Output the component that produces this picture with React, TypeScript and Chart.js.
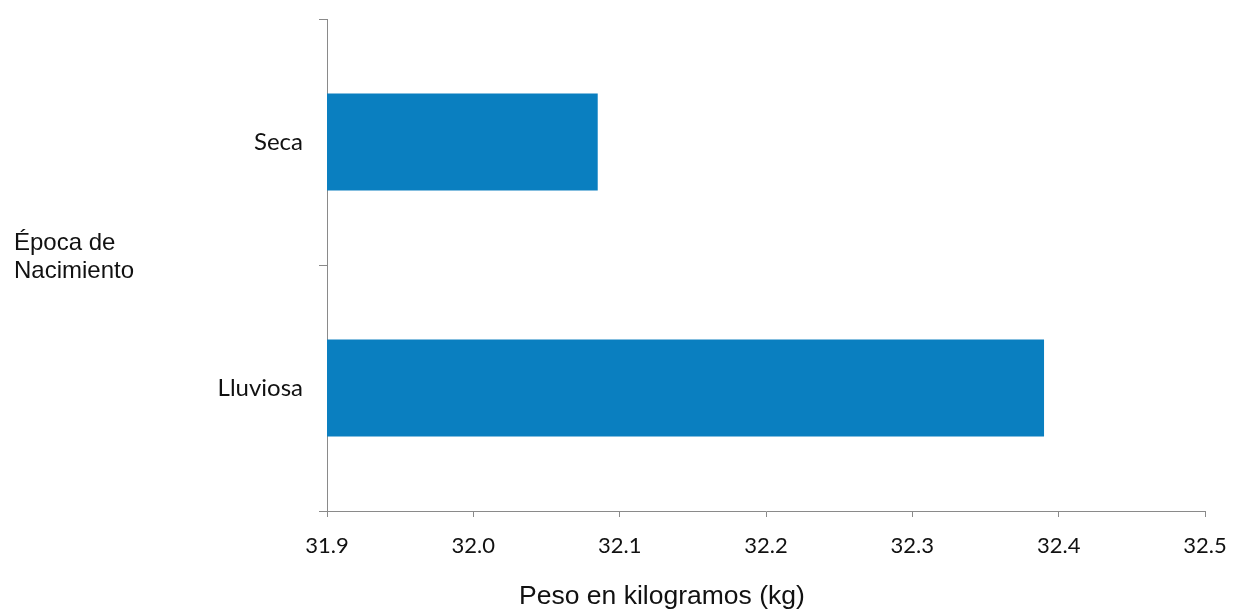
import React, { useEffect, useRef } from "react";
import { Chart, registerables } from "chart.js";

Chart.register(...registerables);

const categories = ["Seca", "Lluviosa"];
const pesoValues = [32.085, 32.39];
const xMin = 31.9;
const xMax = 32.5;
const xStep = 0.1;
const yAxisTitleLines = ["Época de", "Nacimiento"];
const xAxisTitle = "Peso en kilogramos (kg)";

const BAR_COLOR = "#0a7fc0";
const AXIS_COLOR = "#8a8a8a";
const TEXT_COLOR = "#111";
const TICK_FONT = "Lato, 'Open Sans', sans-serif";
const TITLE_FONT = "'Liberation Sans', Arial, sans-serif";

const titlesPlugin = {
  id: "titles",
  afterDraw(chart: any) {
    const { ctx, chartArea } = chart;
    ctx.save();
    ctx.fillStyle = TEXT_COLOR;
    ctx.textBaseline = "middle";
    // side (y) title, horizontal, two lines
    ctx.font = `24px ${TITLE_FONT}`;
    ctx.textAlign = "left";
    const lh = 28;
    const cy = (chartArea.top + chartArea.bottom) / 2 - 7.5;
    const n = yAxisTitleLines.length;
    yAxisTitleLines.forEach((line, i) => {
      ctx.fillText(line, 14, cy + (i - (n - 1) / 2) * lh);
    });
    // x title
    ctx.font = `26.5px ${TITLE_FONT}`;
    ctx.textAlign = "center";
    ctx.fillText(xAxisTitle, chartArea.left + chartArea.width * 0.3815, chartArea.bottom + 86);
    ctx.restore();
  },
};

export default function App() {
  const ref = useRef<HTMLCanvasElement>(null);
  useEffect(() => {
    if (!ref.current) return;
    const chart = new Chart(ref.current, {
      type: "bar",
      data: {
        labels: categories,
        datasets: [
          {
            data: pesoValues,
            backgroundColor: BAR_COLOR,
            borderWidth: 0,
            barPercentage: 0.395,
            categoryPercentage: 1,
          },
        ],
      },
      options: {
        indexAxis: "y",
        animation: false,
        responsive: false,
        maintainAspectRatio: false,
        layout: { padding: { top: 19, right: 30, bottom: 0, left: 0 } },
        plugins: {
          legend: { display: false },
          tooltip: { enabled: false },
        },
        scales: {
          x: {
            min: xMin,
            max: xMax,
            border: { color: AXIS_COLOR, width: 1 },
            grid: {
              drawOnChartArea: false,
              drawTicks: true,
              tickLength: 6,
              color: AXIS_COLOR,
            },
            ticks: {
              stepSize: xStep,
              padding: 16,
              color: TEXT_COLOR,
              font: { family: TICK_FONT, size: 22 },
              callback: (v: any) => Number(v).toFixed(1),
            },
            afterFit: (scale: any) => {
              scale.height = 103;
              scale.paddingLeft = 0;
              scale.paddingRight = 0;
            },
          },
          y: {
            border: { color: AXIS_COLOR, width: 1 },
            grid: {
              offset: true,
              drawOnChartArea: false,
              drawTicks: true,
              tickLength: 8,
              color: AXIS_COLOR,
            },
            ticks: {
              padding: 16,
              color: TEXT_COLOR,
              font: { family: TICK_FONT, size: 24 },
            },
            afterFit: (scale: any) => {
              scale.width = 327;
              scale.paddingTop = 0;
              scale.paddingBottom = 0;
            },
          },
        },
      },
      plugins: [titlesPlugin],
    });
    return () => chart.destroy();
  }, []);
  return (
    <div style={{ position: "fixed", left: 0, top: 0, width: 1235, height: 614, background: "#fff" }}>
      <canvas ref={ref} width={1235} height={614} style={{ width: 1235, height: 614 }} />
    </div>
  );
}
